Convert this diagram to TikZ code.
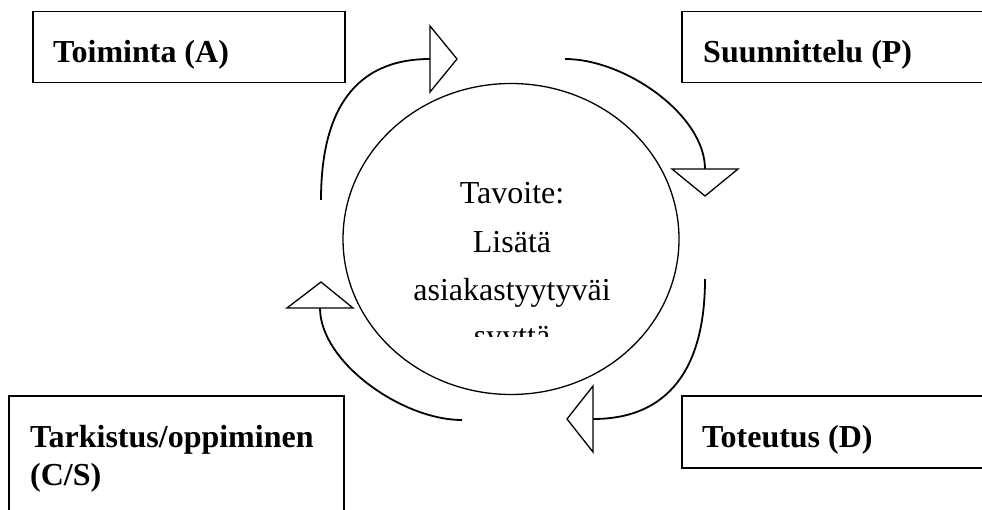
\documentclass[tikz,border=0pt]{standalone}
\usepackage{fontspec}
\setmainfont{Liberation Serif}
\usetikzlibrary{calc,shapes.geometric}
\def\openhead(#1)(#2)(#3){\draw[head] (#1) -- (#2) -- (#3) -- cycle;}

\tikzset{
	frame/.style={draw, line width=1.5pt, inner sep=0pt, anchor=north west},
	lbl/.style={font=\fontsize{32}{38}\selectfont\bfseries, inner sep=0pt, anchor=base west, align=left},
	goaltxt/.style={font=\fontsize{32}{38}\selectfont, inner sep=0pt, anchor=base},
	loopcurve/.style={line width=1.8pt},
	head/.style={line width=1.3pt, fill=white, line join=miter}
}

\begin{document}
\begin{tikzpicture}[x=1pt, y=-1pt]
			%%%%% START %%%%%
			
			\clip (0, 0) rectangle (982, 510);
			
			\node[frame, minimum width=312, minimum height=71] (act) at (32, 11) {};
			\node[frame, minimum width=330, minimum height=71] (plan) at (681, 11) {};
			\node[frame, minimum width=335, minimum height=140] (check) at (8, 395) {};
			\node[frame, minimum width=330, minimum height=72] (do) at (681, 395) {};
			
			\node[lbl] (acttxt) at ($(act.north west)+(21, 52)$) {Toiminta (A)};
			\node[lbl] (plantxt) at ($(plan.north west)+(22, 52)$) {Suunnittelu (P)};
			% base of a two-line node is its last line
			\node[lbl] (checktxt) at ($(check.north west)+(22, 90)$) {Tarkistus/oppiminen\\(C/S)};
			\node[lbl] (dotxt) at ($(do.north west)+(21, 52)$) {Toteutus (D)};
			
			\node[draw, ellipse, line width=1.3pt, inner sep=0pt, minimum width=336, minimum height=311] (goal) at (511, 239) {};
			
			\begin{scope}
				\clip (330, 80) rectangle (700, 337);
				\node[goaltxt] (goal1) at (512, 204) {Tavoite:};
				\node[goaltxt] (goal2) at (512, 253) {Lisätä};
				\node[goaltxt] (goal3) at (512, 301) {asiakastyytyväi};
				\node[goaltxt] (goal4) at (512, 346) {syyttä};
			\end{scope}
			
			\draw[loopcurve] (321, 200) .. controls (321, 110) and (355, 59) .. (430, 59);
			\openhead(430, 26)(457, 59)(430, 92)
			
			\draw[loopcurve] (565, 59) .. controls (625, 59) and (705, 115) .. (705, 169);
			\openhead(672, 169)(738, 169)(705, 196)
			
			\draw[loopcurve] (705, 279) .. controls (705, 369) and (668, 419) .. (593, 419);
			\openhead(593, 386)(567, 419)(593, 452)
			
			\draw[loopcurve] (462, 420) .. controls (402, 420) and (320, 362) .. (320, 308);
			\openhead(287, 308)(353, 308)(321, 282)
			
			%%%%% END %%%%%
		\end{tikzpicture}
\end{document}
